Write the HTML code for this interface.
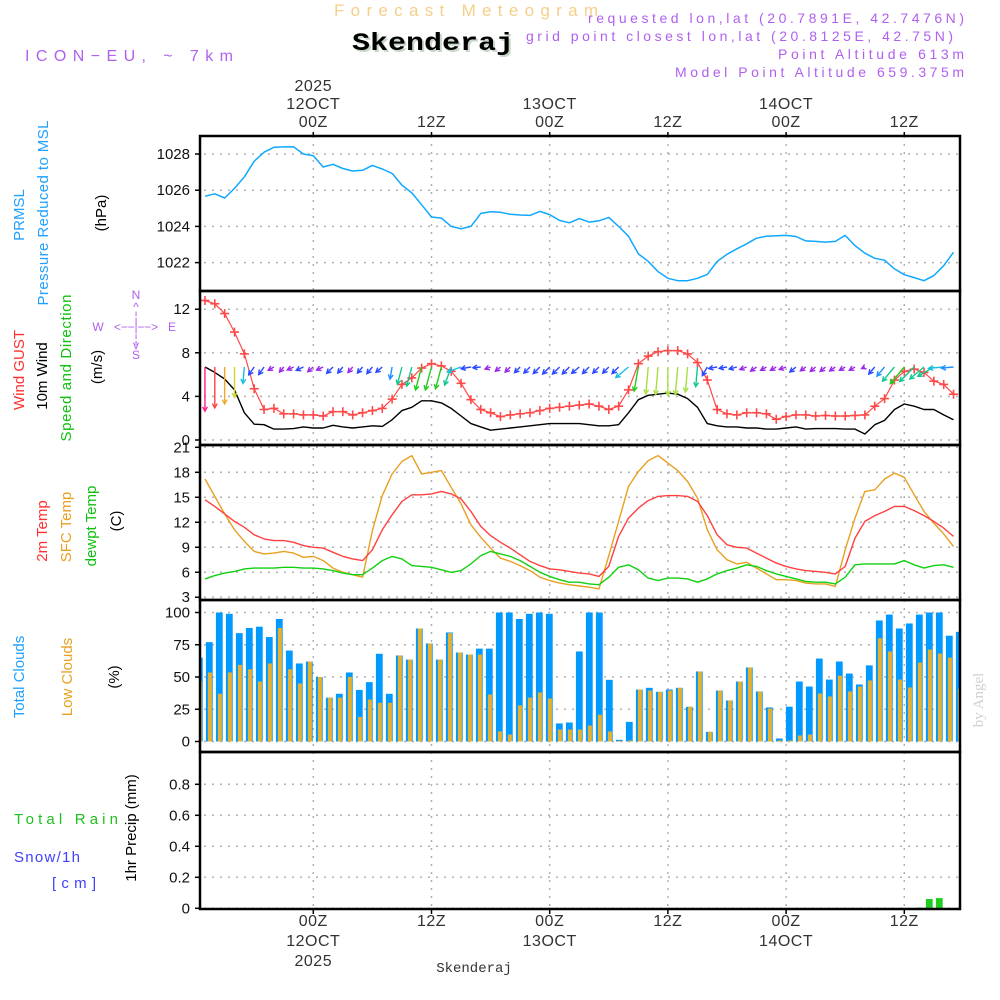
<!DOCTYPE html>
<html><head><meta charset="utf-8">
<style>
html,body{margin:0;padding:0;background:#fff;}
svg{display:block;font-family:"Liberation Sans",sans-serif;}
</style></head>
<body>
<svg id="chart" width="1000" height="1000" viewBox="0 0 1000 1000" xmlns="http://www.w3.org/2000/svg">
<rect x="0" y="0" width="1000" height="1000" fill="#fff"/>
<text x="334" y="16" font-size="17" fill="#f5cf8a" textLength="264" lengthAdjust="spacing">Forecast Meteogram</text>
<text x="352" y="50" font-size="25" font-weight="bold" font-family="Liberation Mono, monospace" fill="#c8d8c8" textLength="162" lengthAdjust="spacingAndGlyphs" transform="translate(2,2)">Skenderaj</text>
<text x="352" y="50" font-size="25" font-weight="bold" font-family="Liberation Mono, monospace" fill="#000" textLength="162" lengthAdjust="spacingAndGlyphs">Skenderaj</text>
<text x="25" y="61" font-size="16" fill="#b060f0" textLength="208" lengthAdjust="spacing">ICON−EU, ~ 7km</text>
<g font-size="14" fill="#b060f0">
<text x="588" y="23" textLength="376" lengthAdjust="spacing">requested lon,lat (20.7891E, 42.7476N)</text>
<text x="526" y="41" textLength="427" lengthAdjust="spacing">grid point closest lon,lat (20.8125E, 42.75N)</text>
<text x="778" y="59" textLength="186" lengthAdjust="spacing">Point Altitude 613m</text>
<text x="675" y="77" textLength="289" lengthAdjust="spacing">Model Point Altitude 659.375m</text>
</g>
<text x="474" y="972" text-anchor="middle" font-size="14" font-family="Liberation Mono, monospace" fill="#333">Skenderaj</text>
<text x="983" y="700" text-anchor="middle" font-size="15" font-family="Liberation Serif, serif" fill="#d0d0d0" transform="rotate(-90 983 700)">by Angel</text>

<!-- left labels -->
<g font-size="15" text-anchor="middle">
<text x="24" y="215" fill="#20a0ff" transform="rotate(-90 24 215)">PRMSL</text>
<text x="48" y="213" fill="#20a0ff" transform="rotate(-90 48 213)" textLength="185">Pressure Reduced to MSL</text>
<text x="106" y="213" fill="#000" transform="rotate(-90 106 213)">(hPa)</text>
<text x="24" y="370" fill="#ff3030" transform="rotate(-90 24 370)">Wind GUST</text>
<text x="47" y="376" fill="#000" transform="rotate(-90 47 376)">10m Wind</text>
<text x="71" y="368" fill="#10c010" transform="rotate(-90 71 368)" textLength="147">Speed and Direction</text>
<text x="102" y="367" fill="#000" transform="rotate(-90 102 367)">(m/s)</text>
<text x="47" y="531" fill="#ff3030" transform="rotate(-90 47 531)">2m Temp</text>
<text x="71" y="527" fill="#e8a020" transform="rotate(-90 71 527)">SFC Temp</text>
<text x="96" y="526" fill="#10c010" transform="rotate(-90 96 526)">dewpt Temp</text>
<text x="121" y="521" fill="#000" transform="rotate(-90 121 521)">(C)</text>
<text x="24" y="677" fill="#20a0ff" transform="rotate(-90 24 677)">Total Clouds</text>
<text x="72" y="677" fill="#e8a020" transform="rotate(-90 72 677)">Low Clouds</text>
<text x="119" y="677" fill="#000" transform="rotate(-90 119 677)">(%)</text>
<text x="136" y="828" fill="#000" transform="rotate(-90 136 828)">1hr Precip (mm)</text>
</g>
<g font-size="15">
<text x="14" y="824" fill="#20c020" textLength="104" lengthAdjust="spacing">Total  Rain</text>
<text x="14" y="862" fill="#4040ff" textLength="66" lengthAdjust="spacing">Snow/1h</text>
<text x="52" y="888" fill="#4040ff" textLength="44" lengthAdjust="spacing">[cm]</text>
</g>
<g font-size="12" fill="#b060f0" text-anchor="middle">
<text x="136" y="299">N</text>
<text x="136" y="311">^</text>
<text x="136" y="320">¦</text>
<text x="98" y="331">W</text>
<text x="136" y="331" textLength="44" lengthAdjust="spacing">&lt;−−|−−&gt;</text>
<text x="172" y="331">E</text>
<text x="136" y="343">¦</text>
<text x="136" y="349">v</text>
<text x="136" y="359">S</text>
</g>
<g id="plot"></g>
</svg>
<script>
// ---- data ----
const pressure = [1025.67,1025.8,1025.57,1026.1,1026.74,1027.6,1028.1,1028.37,1028.39,1028.4,1028.0,1027.9,1027.28,1027.43,1027.2,1027.06,1027.1,1027.37,1027.17,1026.93,1026.28,1025.85,1025.2,1024.52,1024.46,1024.0,1023.87,1024.0,1024.72,1024.81,1024.78,1024.67,1024.63,1024.61,1024.83,1024.65,1024.33,1024.2,1024.43,1024.24,1024.31,1024.5,1024.0,1023.46,1022.48,1022.07,1021.5,1021.13,1021.0,1021.0,1021.13,1021.35,1022.06,1022.46,1022.76,1023.04,1023.35,1023.46,1023.48,1023.5,1023.44,1023.2,1023.17,1023.13,1023.17,1023.5,1022.94,1022.52,1022.24,1022.13,1021.65,1021.33,1021.17,1021.0,1021.28,1021.83,1022.57];
const windGust = [12.8,12.5,11.6,9.9,7.9,4.7,2.8,2.9,2.4,2.4,2.3,2.3,2.2,2.6,2.6,2.3,2.5,2.7,2.9,3.75,5.1,5.7,6.6,7.0,6.8,6.3,5.2,3.7,2.8,2.5,2.15,2.3,2.4,2.5,2.7,2.9,3.0,3.1,3.2,3.3,3.1,2.8,3.1,4.6,7.0,7.7,8.1,8.2,8.2,7.9,7.1,5.5,2.8,2.4,2.3,2.5,2.5,2.4,1.9,2.15,2.3,2.3,2.2,2.25,2.2,2.2,2.25,2.3,3.1,3.8,5.5,6.3,6.5,6.2,5.4,5.1,4.2];
const windSpeed = [6.7,6.2,5.6,4.6,2.5,1.45,1.4,1.0,1.0,1.05,1.2,1.1,1.1,1.35,1.2,1.1,1.2,1.3,1.25,1.85,2.7,3.0,3.6,3.6,3.4,2.9,2.2,1.5,1.2,0.9,1.0,1.1,1.2,1.3,1.4,1.5,1.5,1.5,1.5,1.4,1.3,1.3,1.4,2.5,3.7,4.1,4.2,4.3,4.2,3.8,3.0,1.5,1.3,1.2,1.2,1.1,1.1,1.0,1.0,1.1,1.2,1.0,1.05,1.05,1.05,1.0,1.0,0.55,1.4,1.8,2.8,3.3,3.1,2.8,2.8,2.3,1.85];
const windDir = [0,0,0,0,5,35,35,60,40,65,65,50,65,45,40,40,40,40,50,10,15,15,15,15,15,20,70,80,85,70,50,45,45,45,45,45,45,45,50,45,45,45,45,50,10,5,5,0,5,5,5,30,80,80,75,70,55,60,60,70,50,55,50,50,55,60,60,65,40,40,40,40,45,50,60,85,85];
const temp2m = [14.7,13.9,13.0,12.1,11.4,10.5,10.0,9.8,9.8,9.6,9.2,9.0,8.9,8.4,7.9,7.6,7.4,8.7,11.1,12.9,14.5,15.3,15.3,15.4,15.7,15.4,14.8,13.3,11.5,10.4,9.6,8.9,8.1,7.3,6.8,6.4,6.3,6.1,5.9,5.8,5.5,6.7,10.3,12.5,13.7,14.6,15.1,15.2,15.2,15.1,14.5,12.8,10.5,9.3,9.0,8.9,8.3,7.7,7.1,6.7,6.4,6.2,6.1,6.0,5.8,6.7,10.1,12.1,12.8,13.3,13.9,13.9,13.4,12.8,12.1,11.3,10.3];
const tempSfc = [17.2,15.1,13.0,11.1,9.7,8.5,8.2,8.3,8.5,8.3,7.8,7.9,7.4,6.5,6.0,5.7,5.4,11.0,15.2,17.8,19.3,20.0,17.8,18.0,18.2,16.2,14.2,11.7,10.2,8.9,7.7,7.3,6.8,6.2,5.4,5.0,4.7,4.5,4.35,4.2,4.0,8.0,12.1,16.3,18.1,19.4,20.0,19.1,18.2,16.9,14.9,11.1,8.7,7.5,7.0,7.2,6.5,5.8,5.1,5.1,5.0,4.7,4.6,4.6,4.3,8.7,12.5,15.7,15.9,17.2,17.9,17.4,15.3,13.3,11.9,10.6,9.1];
const dewpoint = [5.2,5.6,5.9,6.1,6.4,6.5,6.5,6.5,6.6,6.6,6.5,6.5,6.4,6.2,5.9,5.7,5.7,6.5,7.4,7.9,7.6,6.8,6.7,6.6,6.3,6.0,6.2,7.0,8.0,8.5,8.2,7.9,7.4,6.7,6.0,5.5,5.1,4.8,4.8,4.6,4.5,5.4,6.6,6.9,6.3,5.3,5.0,5.3,5.3,5.2,4.8,5.2,5.8,6.2,6.5,6.9,6.7,6.2,5.8,5.5,5.2,4.9,4.8,4.8,4.6,5.4,6.9,7.0,7.0,7.0,7.0,7.4,6.9,6.5,6.8,6.9,6.6];
const totalClouds = [65,77,100,99,84,88,89,81,95,70.5,60.5,62,50,34,37,53.5,40,46,68,37,66.7,63.5,87.6,76,63.5,84.5,69,67.4,72,72,100,100,95,99,100,99,14,14.7,69.8,100,100,47.8,1.3,15.2,40.3,41.6,38.5,40.3,41.6,26.9,54.3,7.5,39.5,31.8,46.5,57.4,38.8,26.4,2.3,27,46.5,42.6,64.3,48,62,52.7,44.2,59,93.8,98.4,87.6,91.5,98.4,100,100,82,85];
const lowClouds = [46.5,53.5,37,53.5,59.4,56,46.5,60.5,88,56,45,62,50,34,34,50,19,32.5,30,30,66.7,63.5,87.6,76,63.5,84,69,67.4,67.4,36.4,7.8,5.4,28,34,38,33.3,9.3,9.3,9.3,12.4,20.7,7.8,0.5,0.8,40.3,39.5,38.5,39.5,41.6,26.9,54.3,7.5,39.5,31.8,46.5,57.4,38.8,25.6,0.8,0.8,4.7,5.4,37.2,34.9,51,38.8,42.6,47.3,80,69.8,48,41.9,61.2,71.3,68.2,65,41];
const precip = [0,0,0,0,0,0,0,0,0,0,0,0,0,0,0,0,0,0,0,0,0,0,0,0,0,0,0,0,0,0,0,0,0,0,0,0,0,0,0,0,0,0,0,0,0,0,0,0,0,0,0,0,0,0,0,0,0,0,0,0,0,0,0,0,0,0,0,0,0,0,0,0,0.005,0.06,0.066,0.002,0];
const pressureTicks = [1022,1024,1026,1028];
const windTicks = [0,4,8,12];
const tempTicks = [3,6,9,12,15,18,21];
const cloudTicks = [0,25,50,75,100];
const precipTicks = [0,0.2,0.4,0.6,0.8];
const precipTickLabels = ["0","0.2","0.4","0.6","0.8"];
const timeTicks = [0,12,24,36,48,60];
const topTimeLabels = [["2025","12OCT","00Z"],["12Z"],["13OCT","00Z"],["12Z"],["14OCT","00Z"],["12Z"]];
const bottomTimeLabels = [["00Z","12OCT","2025"],["12Z"],["00Z","13OCT"],["12Z"],["00Z","14OCT"],["12Z"]];
const firstHour = -11;

// ---- layout / scales ----
const NS = "http://www.w3.org/2000/svg";
const plot = document.getElementById("plot");
const X0 = 200, X1 = 960;
const xT = h => 313.3 + 9.85 * h;
const xBar = i => 199.3 + 10 * i;
const panels = {
  p: {top:136, bot:291, y: v => 154 + (1028 - v) * 18.1},
  w: {top:291, bot:445, y: v => 440 - v * 10.9},
  t: {top:445, bot:600, y: v => 447.3 + (21 - v) * 8.33},
  c: {top:600, bot:752, y: v => 741.5 - v * 1.29},
  r: {top:752, bot:909, y: v => 908.3 - v * 155}
};
function el(tag, attrs, parent) {
  const e = document.createElementNS(NS, tag);
  for (const k in attrs) e.setAttribute(k, attrs[k]);
  (parent || plot).appendChild(e);
  return e;
}
function txt(x, y, s, attrs) {
  const t = el("text", Object.assign({x: x, y: y}, attrs || {}));
  t.textContent = s;
  return t;
}

const defs = el("defs", {});
const cp = el("clipPath", {id: "clip"}, defs);
el("rect", {x: X0, y: 136, width: X1 - X0, height: 773}, cp);

const grid = el("g", {stroke: "#b0b0b0", "stroke-width": 1.5, "stroke-dasharray": "2 6", fill: "none"});


function hgrid(pn, ticks) {
  ticks.forEach(v => {
    const y = panels[pn].y(v);
    el("line", {x1: X0 + 4, x2: X1, y1: y, y2: y}, grid);
  });
}
hgrid("p", pressureTicks); hgrid("w", windTicks); hgrid("t", tempTicks); hgrid("c", cloudTicks); hgrid("r", precipTicks);
timeTicks.forEach(h => {
  el("line", {x1: xT(h), x2: xT(h), y1: 136, y2: 909}, grid);
});

const axisG = el("g", {"font-size": 15, fill: "#111", "text-anchor": "end"});


function yticks(pn, ticks, labels, name) {
  ticks.forEach((v, i) => {
    const y = panels[pn].y(v);
    const t = txt(190, y + 5, labels ? labels[i] : String(v), {});
    axisG.appendChild(t);
    
    
    el("line", {x1: 195, x2: 200, y1: y, y2: y, stroke: "#000", "stroke-width": 1.5}, axisG);
  });
}
yticks("p", pressureTicks, null, "pressure");
yticks("w", windTicks, null, "wind");
yticks("t", tempTicks, null, "temp");
yticks("c", cloudTicks, null, "cloud");
yticks("r", precipTicks, precipTickLabels, "precip");

const timeG = el("g", {"font-size": 16, fill: "#333", "text-anchor": "middle", "letter-spacing": "0.5"});


timeTicks.forEach((h, i) => {
  const x = xT(h);
  const top = topTimeLabels[i];
  top.forEach((s, j) => {
    const t = txt(x, 127 - (top.length - 1 - j) * 18, s, {});
    timeG.appendChild(t);
    
    
  });
  bottomTimeLabels[i].forEach((s, j) => {
    const t = txt(x, 926 + j * 20, s, {});
    timeG.appendChild(t);
    
    
  });
  el("line", {x1: x, x2: x, y1: 132, y2: 137, stroke: "#000", "stroke-width": 1.5}, timeG);
  el("line", {x1: x, x2: x, y1: 908, y2: 914, stroke: "#000", "stroke-width": 1.5}, timeG);
});

const data = el("g", {"clip-path": "url(#clip)"});



const cloudG = el("g", {}, data);


totalClouds.forEach((v, i) => {
  const x = xBar(i), y = panels.c.y(v), y0 = panels.c.y(0);
  const b = el("rect", {x: x - 3.4, y: y, width: 6.8, height: y0 - y, fill: "#0099ff"}, cloudG);
  
  
  const lv = lowClouds[i], ly = panels.c.y(lv);
  const lb = el("rect", {x: x - 1.4, y: ly, width: 4, height: y0 - ly, fill: "#e8b030"}, cloudG);
  
  
});

const rainG = el("g", {}, data);


precip.forEach((v, i) => {
  if (v <= 0) return;
  const x = xBar(i), y = panels.r.y(v), y0 = panels.r.y(0);
  const b = el("rect", {x: x - 3.4, y: y, width: 6.8, height: Math.max(1, y0 - y), fill: "#20cc20"}, rainG);
  
  
});

function line(vals, pn, color, name, w) {
  const pts = vals.map((v, i) => xT(firstHour + i).toFixed(1) + "," + panels[pn].y(v).toFixed(1)).join(" ");
  const p = el("polyline", {points: pts, fill: "none", stroke: color, "stroke-width": w || 1.4, "stroke-linejoin": "round"}, data);
  
  
  return p;
}
line(pressure, "p", "#10a8ff", "pressure-line", 1.5);
line(windSpeed, "w", "#000", "wind-speed-line", 1.4);
line(windGust, "w", "#ff4848", "wind-gust-line", 1.2);
line(tempSfc, "t", "#e8a020", "sfc-temp-line", 1.4);
line(temp2m, "t", "#ff4040", "temp-2m-line", 1.4);
line(dewpoint, "t", "#10d010", "dewpoint-line", 1.4);

const gm = el("g", {stroke: "#ff4848", "stroke-width": 1.6}, data);


windGust.forEach((v, i) => {
  const x = xT(firstHour + i), y = panels.w.y(v);
  el("line", {x1: x - 4.5, x2: x + 4.5, y1: y, y2: y}, gm);
  el("line", {x1: x, x2: x, y1: y - 4.5, y2: y + 4.5}, gm);
});

function speedColor(s) {
  if (s < 1.15) return "#9a28e8";
  if (s < 1.6) return "#2a48ff";
  if (s < 2.2) return "#1e90ff";
  if (s < 2.65) return "#18c0e0";
  if (s < 3.2) return "#10c890";
  if (s < 3.8) return "#20cc20";
  if (s < 4.5) return "#a8e040";
  if (s < 5.2) return "#c8d830";
  if (s < 5.9) return "#f0a828";
  if (s < 6.4) return "#ff4040";
  return "#ff2090";
}
const arrowsG = el("g", {"stroke-width": 1.4, fill: "none"}, data);


windSpeed.forEach((s, i) => {
  const x = xT(firstHour + i), y = 367;
  const th = windDir[i] * Math.PI / 180;
  const len = 6.6 * s;
  const dx = -Math.sin(th), dy = Math.cos(th);
  const ex = x + dx * len, ey = y + dy * len;
  const c = speedColor(s);
  const g = el("g", {stroke: c}, arrowsG);
  
  
  el("line", {x1: x, y1: y, x2: ex, y2: ey}, g);
  const hl = 5, a = 0.5;
  const bx = -dx, by = -dy;
  const h1x = ex + hl * (bx * Math.cos(a) - by * Math.sin(a)), h1y = ey + hl * (bx * Math.sin(a) + by * Math.cos(a));
  const h2x = ex + hl * (bx * Math.cos(-a) - by * Math.sin(-a)), h2y = ey + hl * (bx * Math.sin(-a) + by * Math.cos(-a));
  el("polyline", {points: h1x + "," + h1y + " " + ex + "," + ey + " " + h2x + "," + h2y}, g);
});

const frames = el("g", {fill: "none", stroke: "#000", "stroke-width": 2.5});


["p","w","t","c","r"].forEach(k => {
  const p = panels[k];
  const r = el("rect", {x: X0, y: p.top, width: X1 - X0, height: p.bot - p.top}, frames);
  
  
});
</script>
</body></html>
